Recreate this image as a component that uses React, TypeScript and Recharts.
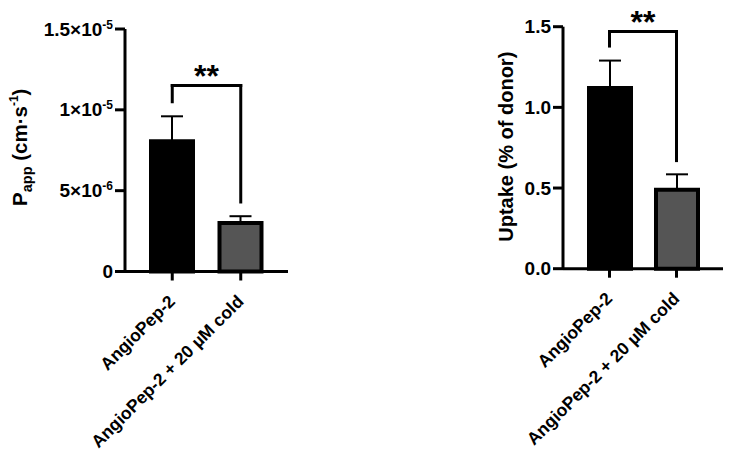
import React from 'react';
import { BarChart, Bar, XAxis, YAxis, ErrorBar, ReferenceLine, Cell } from 'recharts';

const categories = ['AngioPep-2', 'AngioPep-2 + 20 µM cold'];
const pappMean = [8.05e-6, 3.0e-6];
const pappErr = [1.55e-6, 0.42e-6];
const uptakeMean = [1.12, 0.49];
const uptakeErr = [0.17, 0.095];
const barColors = ['#000000', '#555555'];

const pappTicks = [0, 5e-6, 1e-5, 1.5e-5];
const pappTickBase = ['0', '5×10', '1×10', '1.5×10'];
const pappTickExp = ['', '-6', '-5', '-5'];
const uptakeTicks = [0, 0.5, 1.0, 1.5];
const uptakeTickLabels = ['0.0', '0.5', '1.0', '1.5'];

const pappBracket = { top: 1.15e-5, left: 1.05e-5, right: 0.43e-5 };
const uptakeBracket = { top: 1.47, left: 1.38, right: 0.67 };
const sigLabel = '**';

const FONT = '"Liberation Sans", Arial, sans-serif';

const pappData = categories.map((c, i) => ({ name: c, mean: pappMean[i], err: [0, pappErr[i]] }));
const uptakeData = categories.map((c, i) => ({ name: c, mean: uptakeMean[i], err: [0, uptakeErr[i]] }));

const XTick = (props: any) => {
  const { x, y, payload } = props;
  const ex = x + 4;
  const ey = y + 20;
  return (
    <text x={ex} y={ey} transform={`rotate(-45, ${ex}, ${ey})`} textAnchor="end"
      fontSize={17.5} fontWeight={700} fontFamily={FONT} fill="#000">
      {payload.value}
    </text>
  );
};

const PappYTick = (props: any) => {
  const { x, y, payload } = props;
  const i = pappTicks.indexOf(payload.value);
  return (
    <text x={x} y={y + 6.5} textAnchor="end" fontSize={19} fontWeight={700} fontFamily={FONT} fill="#000">
      {pappTickBase[i]}
      {pappTickExp[i] ? <tspan fontSize={12} dy={-7}>{pappTickExp[i]}</tspan> : null}
    </text>
  );
};

const UptakeYTick = (props: any) => {
  const { x, y, payload } = props;
  const i = uptakeTicks.indexOf(payload.value);
  return (
    <text x={x} y={y + 6.5} textAnchor="end" fontSize={19} fontWeight={700} fontFamily={FONT} fill="#000">
      {uptakeTickLabels[i]}
    </text>
  );
};

const PappLabel = (props: any) => {
  const vb = props.viewBox || { x: 0, y: 0, width: 0, height: 0 };
  const cx = vb.x + 27;
  const cy = vb.y + vb.height / 2 - 3;
  return (
    <text x={0} y={0} transform={`translate(${cx},${cy}) rotate(-90)`} textAnchor="middle"
      fontSize={20.5} fontWeight={700} fontFamily={FONT} fill="#000">
      P<tspan fontSize={14.5} dy={5}>app</tspan>
      <tspan dy={-5}> (cm·s</tspan>
      <tspan fontSize={12} dy={-9}>-1</tspan>
      <tspan dy={9}>)</tspan>
    </text>
  );
};

const UptakeLabel = (props: any) => {
  const vb = props.viewBox || { x: 0, y: 0, width: 0, height: 0 };
  const cx = vb.x + 113;
  const cy = vb.y + vb.height / 2 - 1;
  return (
    <text x={0} y={0} transform={`translate(${cx},${cy}) rotate(-90)`} textAnchor="middle"
      fontSize={20} fontWeight={700} fontFamily={FONT} fill="#000">
      Uptake (% of donor)
    </text>
  );
};

const StarLabel = (props: any) => {
  const vb = props.viewBox || { x: 0, y: 0, width: 0, height: 0 };
  return (
    <text x={vb.x + vb.width / 2} y={vb.y + 1} textAnchor="middle" fontSize={32} fontWeight={700}
      fontFamily={FONT} fill="#000">
      {sigLabel}
    </text>
  );
};

function renderBracket(b: { top: number; left: number; right: number }) {
  return [
    <ReferenceLine key="bl" segment={[{ x: categories[0], y: b.left }, { x: categories[0], y: b.top }]}
      stroke="#000" strokeWidth={3} strokeLinecap="square" ifOverflow="visible" />,
    <ReferenceLine key="bt" segment={[{ x: categories[0], y: b.top }, { x: categories[1], y: b.top }]}
      stroke="#000" strokeWidth={3} strokeLinecap="square" ifOverflow="visible"
      label={(p: any) => <StarLabel {...p} />} />,
    <ReferenceLine key="br" segment={[{ x: categories[1], y: b.top }, { x: categories[1], y: b.right }]}
      stroke="#000" strokeWidth={3} strokeLinecap="square" ifOverflow="visible" />,
  ];
}

const axisLine = { stroke: '#000', strokeWidth: 3 };
const tickLine = { stroke: '#000', strokeWidth: 3 };

export default function App() {
  return (
    <div style={{ position: 'absolute', left: 0, top: 0, width: 744, height: 465, background: '#fff' }}>
      <div style={{ position: 'absolute', left: 0, top: 0 }}>
        <BarChart width={300} height={465} data={pappData}
          margin={{ top: 29, right: 12, bottom: 0, left: 0 }}>
          <XAxis dataKey="name" type="category" height={193.5} interval={0}
            axisLine={axisLine} tickLine={tickLine} tickSize={9} tickMargin={2}
            padding={{ left: 13, right: 13 }} tick={<XTick />} />
          <YAxis width={125} domain={[0, 1.5e-5]} ticks={pappTicks} type="number"
            axisLine={axisLine} tickLine={tickLine} tickSize={10} tickMargin={2}
            tick={<PappYTick />} label={(p: any) => <PappLabel {...p} />} />
          <Bar dataKey="mean" barSize={42} stroke="#000" strokeWidth={4} isAnimationActive={false}>
            {pappData.map((d, i) => <Cell key={d.name} fill={barColors[i]} />)}
            <ErrorBar dataKey="err" width={11} stroke="#000" strokeWidth={2} direction="y" />
          </Bar>
          {renderBracket(pappBracket)}
        </BarChart>
      </div>
      <div style={{ position: 'absolute', left: 400, top: 0 }}>
        <BarChart width={340} height={465} data={uptakeData}
          margin={{ top: 26.7, right: 17, bottom: 0, left: 0 }}>
          <XAxis dataKey="name" type="category" height={196.3} interval={0}
            axisLine={axisLine} tickLine={tickLine} tickSize={9} tickMargin={2}
            padding={{ left: 13, right: 13 }} tick={<XTick />} />
          <YAxis width={163} domain={[0, 1.5]} ticks={uptakeTicks} type="number"
            axisLine={axisLine} tickLine={tickLine} tickSize={10} tickMargin={2}
            tick={<UptakeYTick />} label={(p: any) => <UptakeLabel {...p} />} />
          <Bar dataKey="mean" barSize={42} stroke="#000" strokeWidth={4} isAnimationActive={false}>
            {uptakeData.map((d, i) => <Cell key={d.name} fill={barColors[i]} />)}
            <ErrorBar dataKey="err" width={11} stroke="#000" strokeWidth={2} direction="y" />
          </Bar>
          {renderBracket(uptakeBracket)}
        </BarChart>
      </div>
    </div>
  );
}
